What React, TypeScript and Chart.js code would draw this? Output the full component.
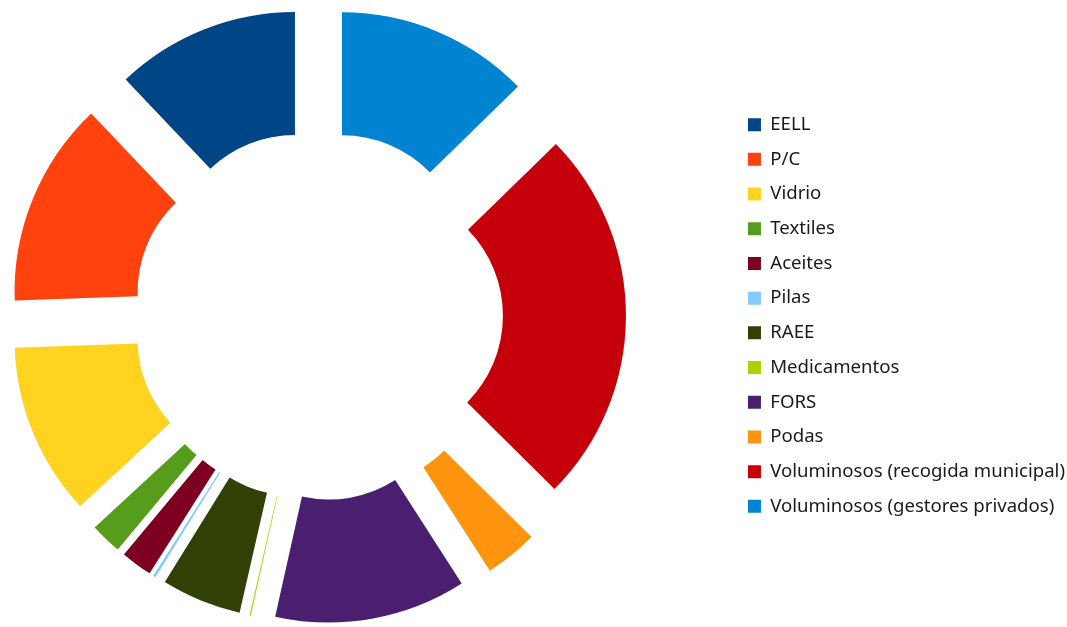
import React, { useEffect, useRef } from "react";
import { Chart, registerables } from "chart.js";

Chart.register(...registerables);

const categories = [
  "EELL",
  "P/C",
  "Vidrio",
  "Textiles",
  "Aceites",
  "Pilas",
  "RAEE",
  "Medicamentos",
  "FORS",
  "Podas",
  "Voluminosos (recogida municipal)",
  "Voluminosos (gestores privados)",
];

const shares = [12.08, 13.47, 11.33, 2.06, 2.06, 0.17, 5.25, 0.08, 12.58, 3.47, 24.75, 12.69];

const colors = [
  "#004586",
  "#ff420e",
  "#ffd320",
  "#579d1c",
  "#7e0021",
  "#83caff",
  "#314004",
  "#aecf00",
  "#4b1f6f",
  "#ff950e",
  "#c5000b",
  "#0084d1",
];

const EXPLODE = 62;
const SHIFT = 96;

const explodePlugin = {
  id: "explode",
  beforeDatasetDraw(chart: any, args: any) {
    const ctx = chart.ctx;
    args.meta.data.forEach((arc: any) => {
      const { startAngle, endAngle } = arc.getProps(["startAngle", "endAngle"], true);
      const mid = (startAngle + endAngle) / 2;
      ctx.save();
      ctx.translate(Math.cos(mid) * EXPLODE, Math.sin(mid) * EXPLODE);
      arc.draw(ctx);
      ctx.restore();
    });
    return false;
  },
};

export default function App() {
  const ref = useRef<HTMLCanvasElement>(null);
  useEffect(() => {
    if (!ref.current) return;
    const labels = [...categories].reverse();
    const data = [...shares].reverse();
    const bg = [...colors].reverse();
    const chart = new Chart(ref.current, {
      type: "doughnut",
      data: {
        labels,
        datasets: [
          {
            data,
            backgroundColor: bg,
            borderWidth: 0,
          },
        ],
      },
      options: {
        responsive: false,
        animation: false,
        radius: 246,
        cutout: "50%",
        layout: { padding: { left: 0, right: -8, top: 4, bottom: 0 } },
        plugins: {
          tooltip: { enabled: false },
          legend: {
            position: "right",
            reverse: true,
            labels: {
              boxWidth: 13,
              boxHeight: 13,
              padding: 16.1,
              color: "#1a1a1a",
              font: { family: "Noto Sans", size: 18.6 },
            },
          },
        },
      },
      plugins: [explodePlugin],
    });
    return () => chart.destroy();
  }, []);
  return (
    <div style={{ position: "fixed", left: 0, top: 0, width: 1067, height: 627, overflow: "hidden" }}>
      <canvas
        ref={ref}
        width={1067 + SHIFT}
        height={627}
        style={{ display: "block", position: "absolute", left: -SHIFT, top: 0 }}
      />
    </div>
  );
}
